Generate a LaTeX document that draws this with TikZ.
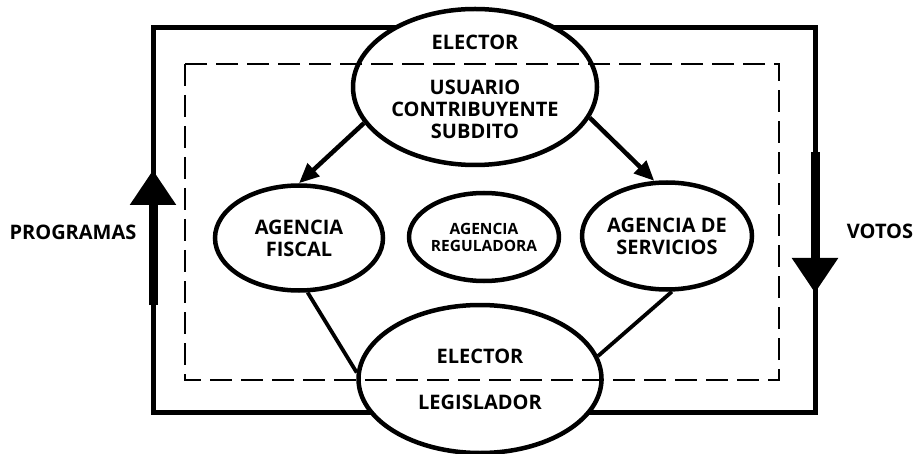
\documentclass[tikz,border=0pt]{standalone}
\usepackage{fontspec}
\setmainfont{Open Sans}
\usetikzlibrary{shapes.geometric,arrows.meta}
\begin{document}
\begin{tikzpicture}
  [x=1pt,y=-1pt,every node/.style={ellipse,draw,line width=4.5pt,fill=white,inner sep=0pt,align=center,font=\fontsize{20}{22}\selectfont\bfseries}]
  \tikzstyle{rotulo} = [draw=none,fill=none,rectangle]
  \tikzstyle{flecha} = [line width=4.5pt,-{Triangle[length=20pt,width=17pt]}]
  \tikzstyle{enlace} = [line width=3.8pt]
  \tikzstyle{marco} = [line width=5pt]
  \tikzstyle{flujo} = [line width=9pt,-{Triangle[length=35pt,width=44pt]}]
  \useasboundingbox (0,0) rectangle (915,454);
  % marco exterior y flujos
  \draw[marco] (153,28) rectangle (815,412);
  \coordinate (p1) at (153,305);
  \coordinate (p2) at (153,170);
  \coordinate (v1) at (815,152);
  \coordinate (v2) at (815,293);
  \draw[flujo] (p1) -- (p2);
  \draw[flujo] (v1) -- (v2);
  \node[rotulo] (prog) at (73,232) {PROGRAMAS};
  \node[rotulo] (votos) at (880,231) {VOTOS};
  % elipses
  \node[minimum width=244pt,minimum height=156pt] (elector) at (475,87) {ELECTOR\\[23pt]USUARIO\\CONTRIBUYENTE\\SUBDITO};
  \node[minimum width=168pt,minimum height=105pt] (fiscal) at (299,238) {AGENCIA\\FISCAL};
  \node[minimum width=132pt,minimum height=88pt,font=\fontsize{15.5}{17}\selectfont\bfseries] (regul) at (484,237) {AGENCIA\\REGULADORA};
  \node[minimum width=170pt,minimum height=107pt] (servic) at (667,236) {AGENCIA DE\\SERVICIOS};
  \node[minimum width=243pt,minimum height=148pt] (legis) at (480,379) {ELECTOR\\[24pt]LEGISLADOR};
  % marco interior
  \draw[line width=2.2pt,dash pattern=on 22pt off 9pt] (185,64) rectangle (779,380);
\foreach \source/\dest in {elector.198/fiscal.90,elector.345/servic.103}
   \draw[flecha] (\source) -- (\dest);
\foreach \source/\dest in {fiscal.279/legis.177,servic.275/legis.11}
   \draw[enlace] (\source) -- (\dest);

\end{tikzpicture}
\end{document}
